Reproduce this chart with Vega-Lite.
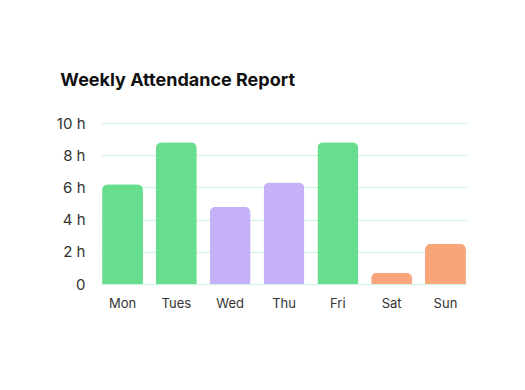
{
  "$schema": "https://vega.github.io/schema/vega-lite/v6.json",
  "width": 525,
  "height": 390,
  "autosize": {"type": "fit", "contains": "padding"},
  "padding": {"left": 56, "top": 72, "right": 58, "bottom": 80},
  "background": "white",
  "title": {
    "text": "Weekly Attendance Report",
    "anchor": "start",
    "frame": "bounds",
    "font": "Inter",
    "fontSize": 18,
    "fontWeight": "bold",
    "color": "#111111",
    "offset": 26,
    "dx": 4
  },
  "data": {
    "values": [
      {"day": "Mon", "hours": 6.2, "group": "green"},
      {"day": "Tues", "hours": 8.8, "group": "green"},
      {"day": "Wed", "hours": 4.8, "group": "purple"},
      {"day": "Thu", "hours": 6.3, "group": "purple"},
      {"day": "Fri", "hours": 8.8, "group": "green"},
      {"day": "Sat", "hours": 0.7, "group": "orange"},
      {"day": "Sun", "hours": 2.5, "group": "orange"}
    ]
  },
  "mark": {"type": "bar", "cornerRadiusEnd": 6},
  "encoding": {
    "x": {
      "field": "day",
      "type": "nominal",
      "sort": null,
      "scale": {"paddingInner": 0.24, "paddingOuter": 0.02},
      "axis": {
        "title": null,
        "domain": false,
        "ticks": false,
        "labelAngle": 0,
        "labelPadding": 13,
        "labelFont": "Inter",
        "labelFontSize": 13,
        "labelColor": "#333333"
      }
    },
    "y": {
      "field": "hours",
      "type": "quantitative",
      "scale": {"domain": [0, 10], "nice": false},
      "axis": {
        "title": null,
        "values": [0, 2, 4, 6, 8, 10],
        "labelExpr": "datum.value == 0 ? '0' : datum.value + ' h'",
        "domain": false,
        "ticks": false,
        "labelPadding": 16,
        "labelFont": "Inter",
        "labelFontSize": 15,
        "labelColor": "#333333",
        "gridColor": "#D6F5E6",
        "gridWidth": 1.5
      }
    },
    "color": {
      "field": "group",
      "type": "nominal",
      "scale": {"domain": ["green", "purple", "orange"], "range": ["#66DE8E", "#C4B1F8", "#F9A57A"]},
      "legend": null
    }
  },
  "config": {"view": {"stroke": null}}
}
